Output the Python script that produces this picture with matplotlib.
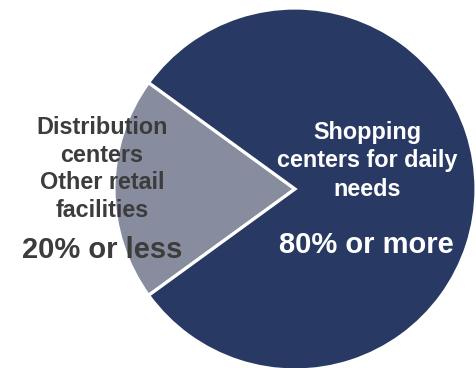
import matplotlib
matplotlib.use("Agg")
import matplotlib.pyplot as plt

plt.rcParams['font.family'] = ['Liberation Sans', 'DejaVu Sans']

# Portfolio composition by property type
categories = ["Other retail / distribution", "Shopping centers for daily needs"]
shares = [20, 80]
colors = ["#888c9f", "#283a64"]

left_lines = ["Distribution", "centers", "Other retail", "facilities"]
left_share = "20% or less"
right_lines = ["Shopping", "centers for daily", "needs"]
right_share = "80% or more"

W, H = 476, 368
fig = plt.figure(figsize=(W / 100, H / 100), dpi=100)
ax = fig.add_axes([0, 0, 1, 1])

ax.pie(shares, colors=colors, startangle=144, center=(295, 179), radius=181,
       wedgeprops=dict(edgecolor='white', linewidth=2.3), frame=True)
ax.set_xlim(0, W)
ax.set_ylim(0, H)
ax.set_aspect('equal')
ax.axis('off')

# left-hand labels
for i, line in enumerate(left_lines):
    ax.text(102, H - (134 + 27.7 * i), line, ha='center', va='baseline',
            fontsize=16.8, fontweight='bold', color='#3c3c3c')
ax.text(102, H - 258, left_share, ha='center', va='baseline',
        fontsize=21, fontweight='bold', color='#3c3c3c')

# right-hand labels
for i, line in enumerate(right_lines):
    ax.text(367, H - (139 + 28.3 * i), line, ha='center', va='baseline',
            fontsize=16.8, fontweight='bold', color='white')
ax.text(366, H - 253, right_share, ha='center', va='baseline',
        fontsize=21, fontweight='bold', color='white')

fig.savefig("out.png", dpi=100)
